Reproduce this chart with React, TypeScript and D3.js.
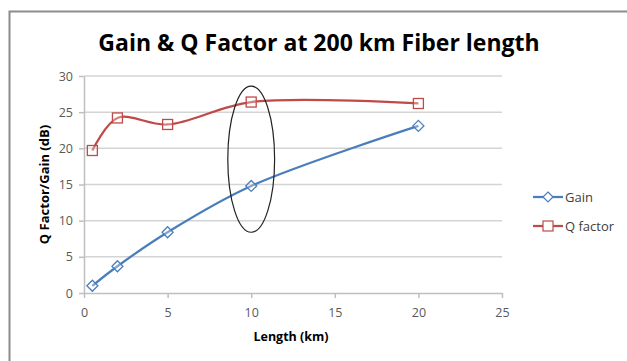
import React, { useEffect, useRef } from 'react';
import * as d3 from 'd3';

const lengths = [0.5, 2, 5, 10, 20];
const gainValues = [1.0, 3.7, 8.4, 14.8, 23.1];
const qValues = [19.7, 24.2, 23.3, 26.4, 26.2];
const xTicks = [0, 5, 10, 15, 20, 25];
const yTicks = [0, 5, 10, 15, 20, 25, 30];
const seriesNames = ['Gain', 'Q factor'];

export default function App() {
  const svgRef = useRef<SVGSVGElement>(null);

  useEffect(() => {
    document.body.style.margin = '0';
    if (!svgRef.current) return;
    const svg = d3.select(svgRef.current);
    svg.selectAll('*').remove();

    const font = "'Open Sans', sans-serif";
    const x = d3.scaleLinear().domain([0, 25]).range([84, 502]);
    const y = d3.scaleLinear().domain([0, 30]).range([293, 76]);

    // chart frame
    svg
      .append('rect')
      .attr('x', 9.5)
      .attr('y', 11.5)
      .attr('width', 700)
      .attr('height', 400)
      .attr('fill', '#fff')
      .attr('stroke', '#8c8c8c')
      .attr('stroke-width', 2);

    svg
      .append('text')
      .attr('x', 319)
      .attr('y', 51)
      .attr('text-anchor', 'middle')
      .attr('font-family', font)
      .attr('font-weight', 'bold')
      .attr('font-size', 23)
      .attr('fill', '#000')
      .text('Gain & Q Factor at 200 km Fiber length');

    // gridlines
    svg
      .append('g')
      .selectAll('line')
      .data(yTicks.filter((d) => d > 0))
      .enter()
      .append('line')
      .attr('x1', x(0))
      .attr('x2', x(25))
      .attr('y1', (d) => y(d))
      .attr('y2', (d) => y(d))
      .attr('stroke', '#d4d4d4')
      .attr('stroke-width', 1.5);

    // axes
    const xAxis = svg
      .append('g')
      .attr('transform', `translate(0,${y(0)})`)
      .call(d3.axisBottom(x).tickValues(xTicks).tickSize(5).tickSizeOuter(0));
    const yAxis = svg
      .append('g')
      .attr('transform', `translate(${x(0)},0)`)
      .call(d3.axisLeft(y).tickValues(yTicks).tickSize(5).tickSizeOuter(0));
    [xAxis, yAxis].forEach((g) => {
      g.select('.domain').attr('stroke', '#bfbfbf').attr('stroke-width', 1.5);
      g.selectAll('.tick line').attr('stroke', '#bfbfbf').attr('stroke-width', 1.5);
      g.selectAll('.tick text')
        .attr('font-family', font)
        .attr('font-size', 12.5)
        .attr('fill', '#595959');
    });
    xAxis.selectAll('.tick text').attr('dy', '1.3em');
    yAxis.selectAll('.tick text').attr('x', -11);

    svg
      .append('text')
      .attr('x', x(12.5) - 2)
      .attr('y', 341)
      .attr('text-anchor', 'middle')
      .attr('font-family', font)
      .attr('font-weight', 'bold')
      .attr('font-size', 12.5)
      .text('Length (km)');

    svg
      .append('text')
      .attr('transform', `translate(49,${y(15)}) rotate(-90)`)
      .attr('text-anchor', 'middle')
      .attr('font-family', font)
      .attr('font-weight', 'bold')
      .attr('font-size', 13)
      .text('Q Factor/Gain (dB)');

    const line = d3
      .line<[number, number]>()
      .x((d) => x(d[0]))
      .y((d) => y(d[1]))
      .curve(d3.curveCatmullRom.alpha(0.5));

    const gainColor = '#4a7ebb';
    const qColor = '#be4b48';
    const gainPts = lengths.map((l, i) => [l, gainValues[i]] as [number, number]);
    const qPts = lengths.map((l, i) => [l, qValues[i]] as [number, number]);

    svg
      .append('path')
      .attr('d', line(gainPts))
      .attr('fill', 'none')
      .attr('stroke', gainColor)
      .attr('stroke-width', 2.25);
    svg
      .append('path')
      .attr('d', line(qPts))
      .attr('fill', 'none')
      .attr('stroke', qColor)
      .attr('stroke-width', 2.25);

    const diamond = (cx: number, cy: number, r: number) =>
      `M${cx},${cy - r}L${cx + r},${cy}L${cx},${cy + r}L${cx - r},${cy}Z`;

    svg
      .append('g')
      .selectAll('path')
      .data(gainPts)
      .enter()
      .append('path')
      .attr('d', (d) => diamond(x(d[0]), y(d[1]), 5.5))
      .attr('fill', '#fff')
      .attr('fill-opacity', 0.3)
      .attr('stroke', gainColor)
      .attr('stroke-width', 1.3);

    svg
      .append('g')
      .selectAll('rect')
      .data(qPts)
      .enter()
      .append('rect')
      .attr('x', (d) => x(d[0]) - 5)
      .attr('y', (d) => y(d[1]) - 5)
      .attr('width', 10)
      .attr('height', 10)
      .attr('fill', '#fff')
      .attr('fill-opacity', 0.3)
      .attr('stroke', qColor)
      .attr('stroke-width', 1.3);

    // highlight ellipse around the 10 km points
    svg
      .append('ellipse')
      .attr('cx', x(10))
      .attr('cy', y(18.5))
      .attr('rx', x(11.4) - x(10))
      .attr('ry', y(8.4) - y(18.5))
      .attr('fill', 'none')
      .attr('stroke', '#222')
      .attr('stroke-width', 1.2);

    // legend
    const legend = svg.append('g');
    const colors = [gainColor, qColor];
    seriesNames.forEach((name, i) => {
      const ly = 197 + i * 29;
      legend
        .append('line')
        .attr('x1', 533)
        .attr('x2', 563)
        .attr('y1', ly)
        .attr('y2', ly)
        .attr('stroke', colors[i])
        .attr('stroke-width', 2.25);
      if (i === 0) {
        legend
          .append('path')
          .attr('d', diamond(548, ly, 5))
          .attr('fill', '#fff')
          .attr('stroke', colors[i])
          .attr('stroke-width', 1.2);
      } else {
        legend
          .append('rect')
          .attr('x', 543)
          .attr('y', ly - 5)
          .attr('width', 10)
          .attr('height', 10)
          .attr('fill', '#fff')
          .attr('stroke', colors[i])
          .attr('stroke-width', 1.2);
      }
      legend
        .append('text')
        .attr('x', 565)
        .attr('y', ly + 4.5)
        .attr('font-family', font)
        .attr('font-size', 13)
        .attr('fill', '#404040')
        .text(name);
    });
  }, []);

  return <svg ref={svgRef} width={627} height={361} style={{ display: 'block' }} />;
}
